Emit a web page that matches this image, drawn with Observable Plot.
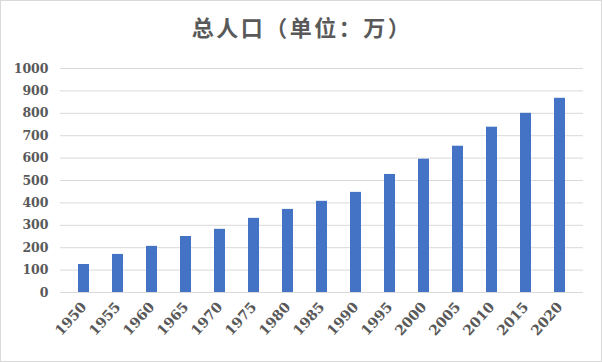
<!DOCTYPE html>
<html>
<head>
<meta charset="utf-8">
<script src="https://cdn.jsdelivr.net/npm/d3@7"></script>
<script src="https://cdn.jsdelivr.net/npm/@observablehq/plot@0.6"></script>
<style>
  html, body { margin: 0; padding: 0; background: #fff; }
  #wrap { position: relative; width: 602px; height: 362px; overflow: hidden; }
  #frame { position: absolute; left: 0; top: 0; width: 600px; height: 360px; border: 1px solid #d9d9d9; pointer-events: none; }
  #title { position: absolute; left: 0; top: 11px; width: 604px; text-align: center;
           font-family: "Noto Sans CJK SC", sans-serif; font-weight: bold; font-size: 22px;
           letter-spacing: 2.5px; color: #595959; line-height: 30px; }
  #chart { position: absolute; left: 0; top: 0; }
</style>
</head>
<body>
<div id="wrap">
  <div id="chart"></div>
  <div id="title">总人口（单位：万）</div>
  <div id="frame"></div>
</div>
<script>
const years = ["1950","1955","1960","1965","1970","1975","1980","1985","1990","1995","2000","2005","2010","2015","2020"];
const population = [125, 170, 206, 250, 282, 331, 371, 407, 447, 527, 595, 653, 738, 800, 867];
const yTicks = [0, 100, 200, 300, 400, 500, 600, 700, 800, 900, 1000];

const data = years.map((y, i) => ({year: y, value: population[i]}));

const chart = Plot.plot({
  width: 602,
  height: 362,
  marginTop: 68,
  marginBottom: 70,
  marginLeft: 60,
  marginRight: 19,
  style: {fontFamily: "'DejaVu Serif', serif", fontSize: "12.5px", color: "#595959", background: "transparent"},
  x: {type: "band", domain: years, paddingInner: 0.684, paddingOuter: 0.342, label: null,
      tickSize: 0, tickPadding: 12, tickRotate: -48},
  y: {domain: [0, 1000], ticks: yTicks, tickFormat: d => String(d), label: null, tickSize: 0, tickPadding: 12},
  marks: [
    Plot.ruleY(yTicks, {stroke: "#d9d9d9", strokeWidth: 1}),
    Plot.barY(data, {x: "year", y: "value", fill: "#4472C4"})
  ]
});
chart.querySelectorAll("g[aria-label='y-axis tick label'] text").forEach(t => t.setAttribute("font-weight", "bold"));
const xl = chart.querySelector("g[aria-label='x-axis tick label']");
if (xl) { xl.setAttribute("font-size", "14px"); xl.setAttribute("font-weight", "600"); }
document.getElementById("chart").appendChild(chart);
</script>
</body>
</html>
